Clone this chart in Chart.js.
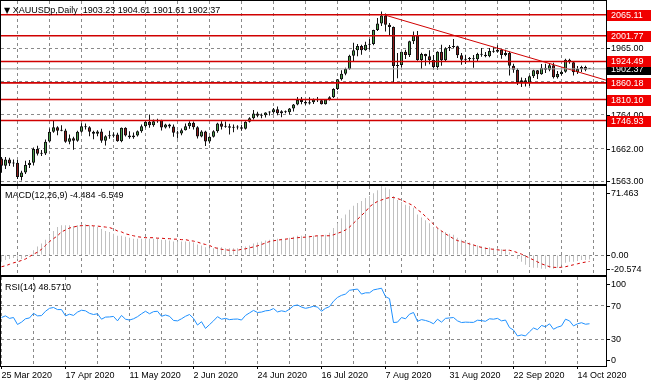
<!DOCTYPE html>
<html><head><meta charset="utf-8">
<script src="https://cdn.jsdelivr.net/npm/chart.js@4/dist/chart.umd.min.js"></script>
<style>
html,body{margin:0;padding:0;background:#fff;width:652px;height:388px;overflow:hidden}
canvas{position:absolute;left:0}
.lbl{position:absolute;font:9px "Liberation Sans",Arial,sans-serif;color:#000;line-height:10px;white-space:pre}
</style></head><body>
<canvas id="cMain" width="652" height="186" style="top:0"></canvas>
<canvas id="cMacd" width="652" height="91" style="top:185px"></canvas>
<canvas id="cRsi" width="652" height="112" style="top:276px"></canvas>
<div class="lbl" style="left:4px;top:5px"><span style="font-family:'DejaVu Sans';font-size:8px">▼</span> XAUUSDp,Daily  1903.23 1904.61 1901.61 1902.37</div>
<div class="lbl" style="left:5px;top:190px">MACD(12,26,9) -4.484 -6.549</div>
<div class="lbl" style="left:5px;top:282px">RSI(14) 48.5710</div>
<script>
// ---------- data ----------
const xLabels = ["25 Mar 2020","17 Apr 2020","11 May 2020","2 Jun 2020","24 Jun 2020","16 Jul 2020","7 Aug 2020","31 Aug 2020","22 Sep 2020","14 Oct 2020"];
const open = [1633,1611,1630,1618,1620,1577,1591,1613,1620,1661,1647,1648,1684,1713,1727,1716,1717,1683,1694,1686,
1713,1730,1727,1713,1707,1714,1686,1700,1701,1705,1685,1725,1702,1697,1702,1715,1730,1743,1733,1745,
1748,1726,1735,1729,1710,1708,1718,1730,1740,1727,1699,1714,1684,1698,1715,1738,1728,1730,1725,1726,
1727,1722,1743,1754,1768,1761,1763,1771,1772,1781,1769,1775,1772,1783,1795,1809,1803,1798,1802,1810,
1808,1796,1810,1817,1842,1871,1888,1902,1942,1958,1971,1958,1975,1977,2019,2039,2063,2035,2028,1911,
1914,1954,1944,1985,2003,1929,1947,1940,1929,1908,1954,1928,1964,1968,1970,1943,1930,1933,1932,1931,
1947,1945,1940,1956,1954,1960,1944,1950,1912,1900,1863,1868,1861,1880,1898,1886,1906,1900,1913,1877,
1887,1894,1930,1922,1892,1902,1908,1903.23];
const high = [1637,1637,1635,1630,1628,1596,1626,1628,1666,1671,1658,1690,1723,1747,1730,1733,1722,1705,1698,1716,
1739,1738,1730,1716,1718,1722,1703,1716,1712,1710,1726,1727,1715,1711,1717,1735,1745,1765,1750,1752,
1749,1737,1737,1735,1716,1723,1738,1745,1744,1730,1718,1716,1700,1718,1740,1745,1744,1737,1735,1733,
1734,1745,1757,1779,1773,1768,1772,1775,1785,1789,1778,1777,1785,1797,1818,1818,1808,1817,1813,1818,
1811,1811,1820,1844,1872,1898,1906,1945,1981,1977,1975,1984,1992,2020,2055,2075,2069,2040,2030,1950,
1950,1960,1987,2015,2016,1951,1948,1958,1944,1955,1975,1967,1974,1992,1972,1950,1945,1938,1944,1951,
1965,1953,1965,1967,1973,1962,1960,1954,1918,1904,1876,1875,1883,1900,1899,1917,1918,1920,1921,1896,
1898,1933,1933,1925,1911,1912,1912,1904.61];
const low = [1590,1601,1610,1608,1571,1567,1586,1604,1612,1642,1640,1643,1681,1710,1703,1715,1680,1676,1659,1683,
1710,1720,1700,1691,1700,1680,1672,1692,1696,1683,1682,1699,1692,1692,1699,1710,1726,1725,1728,1740,
1717,1723,1724,1698,1693,1703,1717,1722,1720,1693,1697,1670,1678,1696,1710,1720,1725,1705,1712,1720,
1716,1720,1741,1750,1757,1754,1756,1762,1767,1763,1757,1769,1765,1774,1793,1796,1794,1795,1797,1803,
1795,1795,1807,1815,1839,1867,1883,1900,1926,1940,1945,1957,1960,1973,2016,2031,2015,2004,1863,1874,
1907,1932,1938,1977,1927,1902,1912,1916,1901,1900,1912,1926,1956,1965,1935,1915,1917,1924,1906,1925,
1939,1937,1937,1951,1951,1933,1940,1882,1891,1854,1848,1849,1851,1875,1872,1885,1890,1895,1873,1873,
1882,1891,1918,1882,1887,1893,1895,1901.61];
const close = [1611,1630,1618,1620,1577,1591,1613,1620,1661,1647,1648,1683,1713,1727,1716,1717,1683,1694,1686,1713,
1730,1727,1713,1707,1714,1686,1700,1701,1705,1685,1725,1702,1697,1702,1715,1730,1743,1733,1745,1748,
1726,1735,1729,1710,1708,1718,1730,1740,1727,1699,1714,1684,1698,1715,1738,1728,1730,1725,1726,1727,
1722,1743,1754,1768,1761,1763,1771,1772,1781,1769,1775,1772,1783,1795,1809,1803,1798,1802,1810,1808,
1796,1810,1817,1842,1871,1888,1902,1942,1958,1971,1958,1975,1977,2019,2039,2063,2035,2028,1911,1914,
1954,1944,1985,2003,1929,1947,1940,1929,1908,1954,1928,1964,1968,1970,1943,1930,1933,1932,1931,1947,
1945,1940,1956,1954,1960,1944,1950,1912,1900,1863,1868,1861,1880,1898,1886,1906,1900,1913,1877,1887,
1894,1930,1922,1892,1902,1908,1900,1902.37];
const macdMain = [-7,-5,-4,-3,-4,-4,-2,1,5,9,12,16,21,25,29,31,31,31,30,31,
32,32,31,30,29,27,25,24,22,20,20,19,18,17,17,17,17,17,17,17,
16,16,15,14,14,14,14,14,13,11,10,8,7,7,8,8,7,7,7,7,
8,9,10,12,13,14,15,16,17,17,17,17,18,19,20,20,20,20,20,20,
20,21,23,28,33,38,42,47,51,54,56,59,61,64,67,71.463,70,68,61,57,
55,52,51,49,42,39,36,33,29,28,25,24,22,21,18,16,14,13,11,10,
9,8,8,7,7,6,6,3,0,-4,-7,-10,-12,-13,-13,-14,-14,-13,-14,-13,
-10,-8,-7,-7,-6,-5,-5,-4.484];
const macdSignal = [-12,-11,-9.5,-8,-7,-5.5,-4,-1.5,1,3,6,10,14,17,20,24,26,28,29,30,
30.5,30.5,30.5,30.3,30,29.5,29,28.5,27,25,24,22,21,20,19,18.5,18,18,18,17.5,
17.5,17,17,16.5,16.5,16,16,15,14.5,13.5,12,11,10,8,7,6,5.5,5,5,5,
6,6.5,7.5,8.5,9.6,11,12.5,14,14.8,15.5,16,16.5,17,17.5,18,18.3,18.6,19,19.5,20,
20,20,20,21,22.5,24,26,29,33,37,41,45,50,53,55.5,57,58.5,59.5,59.6,58.5,
57,55,53,51,47,44,40,36,32,28,25,22,19.5,17,15,14,13,11.5,10.5,9,
8,7,6.5,6,5.5,5,5,5,4,2.5,1,-1,-3,-5,-7,-9,-10.5,-12,-12.6,-12.8,
-12.6,-12,-11,-10,-9,-8,-7.2,-6.549];
const rsi = [56,58,55,56,47.7,50.5,54.5,55.5,61,58,58.3,63.5,67,68,65.5,65.5,58,60,58.5,62.5,
64.7,64,61,59.6,60.5,54,56.5,56.7,57.3,52,58.5,54,53,54.5,57,60.5,63.5,60.5,63,63.5,
57.5,59,57.5,52.5,52,54.5,57.5,59.6,55,47,51,43,47.5,52,57,54,55,53.5,54,54.2,
53,58.5,61.5,64.5,62,62.5,64,64.5,66.7,62.7,64,63,66,70,71,68.5,67,68,69.5,68.5,
63.5,67,69,75.5,80,82.5,84,88.5,89.3,90,84,85.5,85.5,89,90,91,81,78.5,50,50.5,
56,54.5,60,62,51.5,53.5,52.5,51,48.5,54,50.5,55,55.5,56,52,50,50.5,50.3,50.2,52.8,
52.3,51.5,54.5,54,55,52,53,44,41,34,35.2,34,39,43.5,41.5,46.5,45,48.5,42,44.5,
46,54,52,46,48.5,49.8,48,48.571];
const levels = [2065.11, 2001.77, 1924.49, 1860.18, 1810.10, 1746.93];
const currentPrice = 1902.37;
const trendIdx = [95.9, 151.1];
const trendVal = [2064, 1868.5];
const priceTicks = [1563, 1662, 1764, 1864, 1965, 2065];
const priceTickLabels = [[1965,"1965.00"],[1764,"1764.00"],[1662,"1662.00"],[1563,"1563.00"]];
const macdTickLabels = [[71.463,"71.463"],[0,"0.00"],[-20.574,"-20.574"]];
const rsiTicks = [30, 70];
const rsiTickLabels = [[100,"100"],[70,"70"],[30,"30"],[0,"0"]];

// ---------- helpers ----------
const FONT = '"Liberation Sans", Arial, sans-serif';
const X_MIN = -0.125, X_MAX = 151.125;
const GRID = '#8a8a8a';
const N = close.length;

const framePlugin = { id:'frame', afterDraw(chart){
  const {ctx, chartArea:a} = chart;
  ctx.save(); ctx.strokeStyle = '#000'; ctx.lineWidth = 1;
  ctx.strokeRect(Math.round(a.left)-0.5, Math.round(a.top)-0.5, Math.round(a.right-a.left)+1, Math.round(a.bottom-a.top)+1);
  ctx.restore();
}};
const axisPlugin = { id:'axisText', afterDraw(chart, args, o){
  const {ctx, chartArea:a} = chart; const ys = chart.scales.y;
  ctx.save(); ctx.font = '9px ' + FONT; ctx.textBaseline = 'middle'; ctx.textAlign = 'left';
  (o.items || []).forEach(it => {
    let py = ys.getPixelForValue(it.value);
    py = Math.min(a.bottom - o.padBottom, Math.max(a.top + o.padTop, py));
    py = Math.round(py);
    if (it.bg) { ctx.fillStyle = it.bg; ctx.fillRect(a.right + 1, py - 5, 44, 11); }
    else { ctx.fillStyle = '#000'; ctx.fillRect(a.right + 1, py, 3, 1); }
    ctx.fillStyle = it.fg || '#000';
    ctx.fillText(it.text, a.right + 5, py + 0.5);
  });
  ctx.restore();
}};

function xScale(showLabels){
  return {
    type:'linear', min:X_MIN, max:X_MAX, position:'bottom', offset:false,
    afterBuildTicks: s => { const t = []; for (let v = 0; v <= X_MAX; v += 8) t.push({value:v}); s.ticks = t; },
    grid:{ color:GRID, lineWidth:1, drawTicks:showLabels, tickLength:3, tickWidth:1,
      tickColor: c => (c.tick && c.tick.value % 16 === 0) ? '#000' : 'rgba(0,0,0,0)', tickBorderDash:[] },
    border:{ display:false, dash:[3,3] },
    ticks:{ display:showLabels, autoSkip:false, maxRotation:0, minRotation:0, align:'start', padding:1, color:'#000',
      font:{family:FONT, size:9}, callback: v => (v % 16 === 0) ? xLabels[v/16] : '' },
    afterFit: s => { s.height = showLabels ? 22 : 0; }
  };
}
function yScale(min, max, tickVals){
  return {
    type:'linear', position:'right', min, max,
    afterBuildTicks: s => { s.ticks = tickVals.map(v => ({value:v})); },
    afterFit: s => { s.width = 46; },
    grid:{ color:GRID, lineWidth:1, drawTicks:false },
    border:{ display:false, dash:[3,3] },
    ticks:{ display:false }
  };
}
const baseOpts = { responsive:false, animation:false, devicePixelRatio:1, events:[] };

// ---------- main price chart ----------
const bodyData = [], wickData = [], bodyColors = [];
for (let i = 0; i < N; i++) {
  bodyData.push({x:i, y:[open[i], close[i]]});
  wickData.push({x:i, y:[low[i], high[i]]});
  bodyColors.push(close[i] >= open[i] ? '#4a9e4a' : '#8e1c1c');
}
const levelSets = levels.map(v => ({
  type:'line', data:[{x:X_MIN, y:v},{x:X_MAX, y:v}], borderColor:'#d00000', borderWidth:1.6,
  pointRadius:0, order:0
}));
new Chart(document.getElementById('cMain'), {
  type:'bar',
  data:{ datasets:[
    ...levelSets,
    { type:'line', data:[{x:X_MIN, y:currentPrice},{x:X_MAX, y:currentPrice}], borderColor:'#a0a0a0', borderWidth:1, pointRadius:0, order:0 },
    { type:'line', data:trendIdx.map((x,k) => ({x, y:trendVal[k]})), borderColor:'#d00000', borderWidth:1, pointRadius:0, order:0 },
    { data:bodyData, backgroundColor:bodyColors, borderColor:'#111', borderWidth:1, borderSkipped:false,
      barThickness:3, grouped:false, minBarLength:1, inflateAmount:0, order:1 },
    { data:wickData, backgroundColor:'#111', borderWidth:0, barThickness:1, grouped:false, inflateAmount:0, order:2 }
  ]},
  options:{ ...baseOpts,
    layout:{ padding:{left:1, top:1, right:0, bottom:2} },
    scales:{ x:xScale(false), y:yScale(1556.1, 2106.4, priceTicks) },
    plugins:{ legend:{display:false}, tooltip:{enabled:false},
      axisText:{ padTop:0, padBottom:3, items:[
        ...priceTickLabels.map(([v,t]) => ({value:v, text:t})),
        {value:currentPrice, text:currentPrice.toFixed(2), bg:'#000', fg:'#fff'},
        ...levels.map(v => ({value:v, text:v.toFixed(2), bg:'#f00000', fg:'#fff'}))
      ]} }
  },
  plugins:[framePlugin, axisPlugin]
});

// ---------- MACD ----------
new Chart(document.getElementById('cMacd'), {
  type:'bar',
  data:{ datasets:[
    { type:'line', data:macdSignal.map((v,i) => ({x:i, y:v})), borderColor:'#d40000', borderWidth:1, borderDash:[3,3],
      pointRadius:0, tension:0, order:0 },
    { data:macdMain.map((v,i) => ({x:i, y:v})), backgroundColor:'#c0c0c0', borderWidth:0, barThickness:1,
      grouped:false, inflateAmount:0, order:1 }
  ]},
  options:{ ...baseOpts,
    layout:{ padding:{left:1, top:1, right:0, bottom:1} },
    scales:{ x:xScale(false), y:yScale(-20.574, 71.463, [0]) },
    plugins:{ legend:{display:false}, tooltip:{enabled:false},
      axisText:{ padTop:7, padBottom:6, items: macdTickLabels.map(([v,t]) => ({value:v, text:t})) } }
  },
  plugins:[framePlugin, axisPlugin]
});

// ---------- RSI ----------
new Chart(document.getElementById('cRsi'), {
  type:'line',
  data:{ datasets:[
    { data:rsi.map((v,i) => ({x:i, y:v})), borderColor:'#1e90ff', borderWidth:1, pointRadius:0, tension:0 }
  ]},
  options:{ ...baseOpts,
    layout:{ padding:{left:1, top:1, right:0, bottom:0} },
    scales:{ x:xScale(true), y:yScale(-1.9, 104.4, rsiTicks) },
    plugins:{ legend:{display:false}, tooltip:{enabled:false},
      axisText:{ padTop:7, padBottom:6, items: rsiTickLabels.map(([v,t]) => ({value:v, text:t})) } }
  },
  plugins:[framePlugin, axisPlugin]
});
</script>
</body></html>
